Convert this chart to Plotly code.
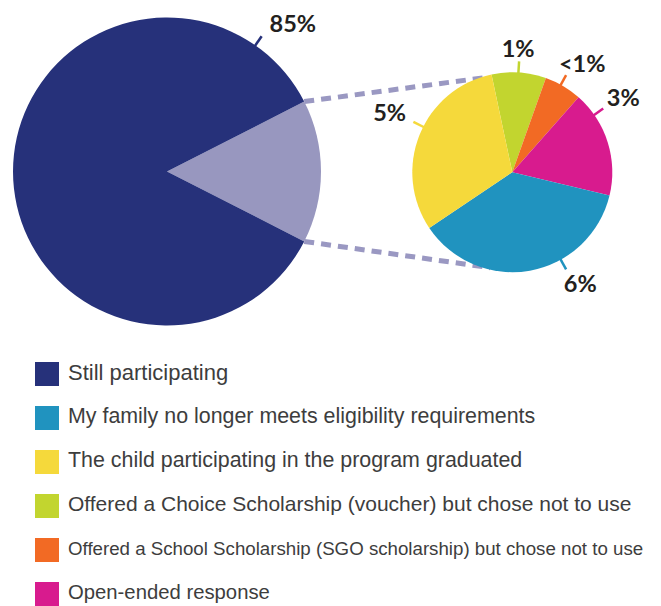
import math

import plotly.graph_objects as go

W, H = 661, 606
# the page body keeps its default 8px margin, so the figure starts 8px in
OX, OY = 8, 8
FW, FH = W - OX, H - OY

# ---- data ----
BIG_LABELS = ["No longer participating", "Still participating"]
BIG_VALUES = [15, 85]
BIG_COLORS = ["#9897BF", "#26317A"]
BIG_TEXT = "85%"

SMALL_LABELS = [
    "Offered a Choice Scholarship (voucher) but chose not to use",
    "Offered a School Scholarship (SGO scholarship) but chose not to use",
    "Open-ended response",
    "My family no longer meets eligibility requirements",
    "The child participating in the program graduated",
]
SMALL_VALUES = [1.3, 0.9, 2.55, 5.45, 4.6]
SMALL_TEXT = ["1%", "<1%", "3%", "6%", "5%"]
SMALL_COLORS = ["#C2D52F", "#F26A24", "#D81B8E", "#2093BF", "#F5D93B"]

LEGEND_LABELS = [
    "Still participating",
    "My family no longer meets eligibility requirements",
    "The child participating in the program graduated",
    "Offered a Choice Scholarship (voucher) but chose not to use",
    "Offered a School Scholarship (SGO scholarship) but chose not to use",
    "Open-ended response",
]
LEGEND_COLORS = ["#26317A", "#2093BF", "#F5D93B", "#C2D52F", "#F26A24", "#D81B8E"]

# ---- layout constants (window pixels) ----
BIG_C, BIG_R = (167, 171.5), 154
SMALL_C, SMALL_R = (512.3, 172.2), 100
SMALL_ROTATION = -12
BIG_TICK_ANGLE = 35
BIG_LABEL_POS = (40.2, 195)
SMALL_TICK_ANGLES = [3.5, 29, 55, 151, 297]
SMALL_LABEL_POS = [(2.7, 125), (32.5, 130), (55.6, 134.5), (148.5, 130), (296.4, 137)]
LABEL_DY = 3.5
LINK_ANGLES = [346, 193]
TICK_LEN = 11

LABEL_FONT = dict(family="Lato, sans-serif", size=23.5, color="#231F20", weight="bold")
LEGEND_SIZES = [22, 21.4, 21.4, 21, 18.7, 20.3]
LEGEND_FONT = dict(family="Liberation Sans, Arial, sans-serif", size=LEGEND_SIZES, color="#3D3D3D")
LEGEND_X, LEGEND_TEXT_X, LEGEND_TOP, LEGEND_STEP = 47, 68, 374, 44


def polar(c, ang, r):
    a = math.radians(ang)
    return c[0] + r * math.sin(a), c[1] - r * math.cos(a)


def domain(c, r):
    return dict(
        x=[(c[0] - r - OX) / FW, (c[0] + r - OX) / FW],
        y=[1 - (c[1] + r - OY) / FH, 1 - (c[1] - r - OY) / FH],
    )


big_share = BIG_VALUES[0] / sum(BIG_VALUES)
big_rotation = 90 - big_share * 180

fig = go.Figure()

# dashed connectors (cartesian layer sits under the pies)
edge_angles = [big_rotation, big_rotation + big_share * 360]
for ea, la in zip(edge_angles, LINK_ANGLES):
    x0, y0 = polar(BIG_C, ea, BIG_R)
    x1, y1 = polar(SMALL_C, la, SMALL_R - 2)
    fig.add_trace(go.Scatter(
        x=[x0, x1], y=[y0, y1], mode="lines",
        line=dict(color="#9A98C2", width=5, dash="10px,7px"),
        hoverinfo="skip", showlegend=False,
    ))

fig.add_trace(go.Pie(
    labels=BIG_LABELS, values=BIG_VALUES, sort=False, direction="clockwise",
    rotation=big_rotation, marker=dict(colors=BIG_COLORS, line=dict(width=0)),
    textinfo="none", domain=domain(BIG_C, BIG_R), showlegend=False,
))
fig.add_trace(go.Pie(
    labels=SMALL_LABELS, values=SMALL_VALUES, sort=False, direction="clockwise",
    rotation=SMALL_ROTATION, marker=dict(colors=SMALL_COLORS, line=dict(width=0)),
    textinfo="none", domain=domain(SMALL_C, SMALL_R), showlegend=False,
))

# leader ticks and value labels
ticks = [(BIG_C, BIG_R, BIG_TICK_ANGLE, BIG_COLORS[1])]
ticks += [(SMALL_C, SMALL_R, a, col) for a, col in zip(SMALL_TICK_ANGLES, SMALL_COLORS)]
for c, r, a, col in ticks:
    x0, y0 = polar(c, a, r - 1)
    x1, y1 = polar(c, a, r + TICK_LEN)
    fig.add_trace(go.Scatter(
        x=[x0, x1], y=[y0, y1], mode="lines", line=dict(color=col, width=2.5),
        hoverinfo="skip", showlegend=False,
    ))

label_pts = [polar(BIG_C, *BIG_LABEL_POS)] + [polar(SMALL_C, a, d) for a, d in SMALL_LABEL_POS]
fig.add_trace(go.Scatter(
    x=[p[0] for p in label_pts], y=[p[1] + LABEL_DY for p in label_pts],
    mode="text", text=[BIG_TEXT] + SMALL_TEXT, textposition="middle center",
    textfont=LABEL_FONT, hoverinfo="skip", showlegend=False,
))

# legend
ly = [LEGEND_TOP + i * LEGEND_STEP for i in range(len(LEGEND_LABELS))]
fig.add_trace(go.Scatter(
    x=[LEGEND_X] * len(ly), y=ly, mode="markers",
    marker=dict(symbol="square", size=24, color=LEGEND_COLORS, line=dict(width=0)),
    hoverinfo="skip", showlegend=False,
))
fig.add_trace(go.Scatter(
    x=[LEGEND_TEXT_X] * len(ly), y=ly, mode="text", text=LEGEND_LABELS,
    textposition="middle right", textfont=LEGEND_FONT,
    hoverinfo="skip", showlegend=False,
))

fig.update_layout(
    width=FW, height=FH,
    margin=dict(t=0, b=0, l=0, r=0),
    paper_bgcolor="#FFFFFF", plot_bgcolor="#FFFFFF",
    xaxis=dict(range=[OX, W], visible=False, fixedrange=True),
    yaxis=dict(range=[H, OY], visible=False, fixedrange=True),
    showlegend=False,
)

fig.write_html("out.html")
